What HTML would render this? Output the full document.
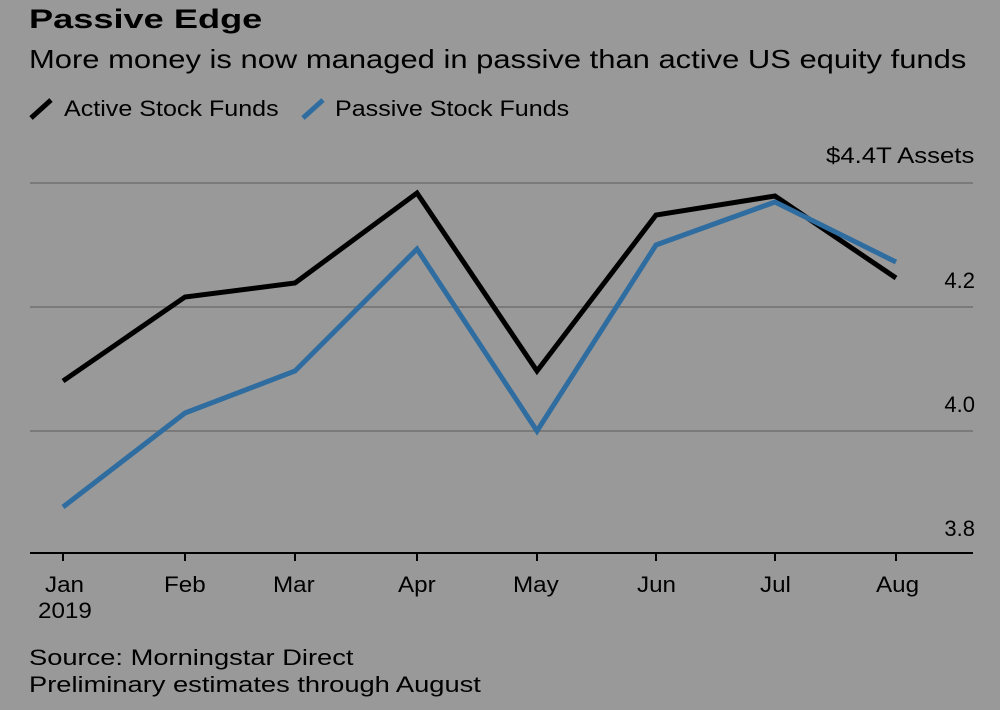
<!DOCTYPE html>
<html><head><style>
body{margin:0;width:1000px;height:710px;background:#999999;font-family:"Liberation Sans",sans-serif;color:#000;overflow:hidden;position:relative}
.t{position:absolute;white-space:nowrap;transform-origin:left top}
</style></head><body>
<div class="t" style="left:29px;top:4px;font-size:27px;font-weight:bold;transform:scaleX(1.34)">Passive Edge</div>
<div class="t" style="left:29px;top:44px;font-size:26px;transform:scaleX(1.19)">More money is now managed in passive than active US equity funds</div>
<svg width="1000" height="710" style="position:absolute;left:0;top:0">
<line x1="31" y1="118" x2="51" y2="100" stroke="#000" stroke-width="5"/>
<line x1="303" y1="118" x2="323" y2="100" stroke="#2f6da0" stroke-width="5"/>
<g stroke="#7a7a7a" stroke-width="2">
<line x1="30" y1="183" x2="973" y2="183"/>
<line x1="30" y1="307" x2="973" y2="307"/>
<line x1="30" y1="431" x2="973" y2="431"/>
</g>
<line x1="30" y1="553" x2="973" y2="553" stroke="#000" stroke-width="2"/>
<g stroke="#000" stroke-width="2">
<line x1="63" y1="553" x2="63" y2="561"/><line x1="185" y1="553" x2="185" y2="561"/>
<line x1="295" y1="553" x2="295" y2="561"/><line x1="417" y1="553" x2="417" y2="561"/>
<line x1="537" y1="553" x2="537" y2="561"/><line x1="656" y1="553" x2="656" y2="561"/>
<line x1="775" y1="553" x2="775" y2="561"/><line x1="896" y1="553" x2="896" y2="561"/>
</g>
<polyline fill="none" stroke="#000" stroke-width="5" points="63,381 185,297 295,283 417,193 537,371 656,215 775,196 896,278"/>
<polyline fill="none" stroke="#2f6da0" stroke-width="5" points="63,507 185,413 295,371 417,249 537,431 656,245 775,202 896,262"/>
</svg>
<div class="t" style="left:64px;top:96px;font-size:22px;transform:scaleX(1.14)">Active Stock Funds</div>
<div class="t" style="left:335px;top:96px;font-size:22px;transform:scaleX(1.14)">Passive Stock Funds</div>
<div class="t" style="left:826px;top:143px;font-size:22px;transform:scaleX(1.17)">$4.4T Assets</div>
<div class="t" style="right:25px;top:268px;font-size:22px">4.2</div>
<div class="t" style="right:25px;top:392px;font-size:22px">4.0</div>
<div class="t" style="right:25px;top:516px;font-size:22px">3.8</div>
<div class="t" style="left:45px;top:572px;font-size:22px;transform:scaleX(1.1)">Jan</div>
<div class="t" style="left:38px;top:598px;font-size:22px;transform:scaleX(1.1)">2019</div>
<div class="t" style="left:164px;top:572px;font-size:22px;transform:scaleX(1.1)">Feb</div>
<div class="t" style="left:273px;top:572px;font-size:22px;transform:scaleX(1.1)">Mar</div>
<div class="t" style="left:398px;top:572px;font-size:22px;transform:scaleX(1.1)">Apr</div>
<div class="t" style="left:513px;top:572px;font-size:22px;transform:scaleX(1.1)">May</div>
<div class="t" style="left:637px;top:572px;font-size:22px;transform:scaleX(1.1)">Jun</div>
<div class="t" style="left:760px;top:572px;font-size:22px;transform:scaleX(1.1)">Jul</div>
<div class="t" style="left:876px;top:572px;font-size:22px;transform:scaleX(1.1)">Aug</div>
<div class="t" style="left:29px;top:645px;font-size:22px;transform:scaleX(1.24)">Source: Morningstar Direct</div>
<div class="t" style="left:29px;top:672px;font-size:22px;transform:scaleX(1.24)">Preliminary estimates through August</div>
</body></html>
